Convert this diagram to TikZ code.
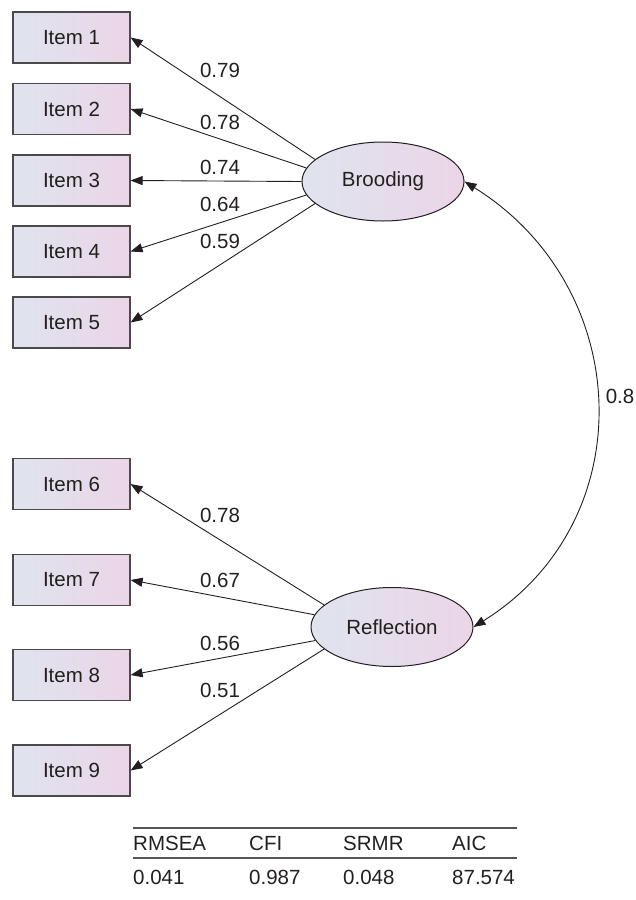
\documentclass[tikz,border=0pt]{standalone}
\usepackage{fontspec}
\setmainfont{Liberation Sans}
\usetikzlibrary{arrows.meta,shapes.geometric}
\definecolor{txt}{HTML}{231F20}
\definecolor{lnc}{HTML}{231F20}
\definecolor{bord}{HTML}{4A4A4A}
\definecolor{fillL}{HTML}{DFE4EE}
\definecolor{fillR}{HTML}{EBD5E7}
\definecolor{rule}{HTML}{555555}
\tikzset{
  itembox/.style={draw=bord, line width=1.1pt, left color=fillL, right color=fillR,
    minimum width=117pt, minimum height=51pt, inner sep=0pt, text=txt,
    font=\fontsize{20.5}{24}\selectfont},
  latent/.style={ellipse, draw=lnc, line width=1pt, left color=fillL, right color=fillR,
    minimum width=162pt, minimum height=79pt, inner sep=0pt, text=txt,
    font=\fontsize{20.5}{24}\selectfont},
  load/.style={draw=lnc, line width=0.9pt, -{Triangle[length=12pt,width=9pt]}},
  cov/.style={draw=lnc, line width=0.9pt, {Triangle[length=12pt,width=9pt]}-{Triangle[length=12pt,width=9pt]}},
  lbl/.style={text=txt, font=\fontsize{20.5}{24}\selectfont, inner sep=0pt},
  tbl/.style={text=txt, font=\fontsize{20.5}{24}\selectfont, inner sep=0pt, anchor=west},
}
\begin{document}
\begin{tikzpicture}[x=1pt,y=-1pt]
\useasboundingbox (0,0) rectangle (635,900);
% items
\node[itembox] (i1) at (71.5,37.5) {Item 1};
\node[itembox] (i2) at (71.5,109) {Item 2};
\node[itembox] (i3) at (71.5,180.5) {Item 3};
\node[itembox] (i4) at (71.5,251.5) {Item 4};
\node[itembox] (i5) at (71.5,322.5) {Item 5};
\node[itembox] (i6) at (71.5,484) {Item 6};
\node[itembox] (i7) at (71.5,580) {Item 7};
\node[itembox] (i8) at (71.5,675) {Item 8};
\node[itembox] (i9) at (71.5,770.5) {Item 9};
% latent
\node[latent] (brood) at (383,181.5) {Brooding};
\node[latent] (refl) at (392,627) {Reflection};
% loadings
\draw[load] (brood.162) -- (i1.east);
\draw[load] (brood.170) -- (i2.east);
\draw[load] (brood.west) -- (i3.east);
\draw[load] (brood.190) -- (i4.east);
\draw[load] (brood.198) -- (i5.east);
\draw[load] (refl.162) -- (i6.east);
\draw[load] (refl.171) -- (i7.east);
\draw[load] (refl.190) -- (i8.east);
\draw[load] (refl.198) -- (i9.east);
% loading labels
\node[lbl] (l1) at (220,70.5) {0.79};
\node[lbl] (l2) at (220,122.5) {0.78};
\node[lbl] (l3) at (220,167) {0.74};
\node[lbl] (l4) at (220,204.5) {0.64};
\node[lbl] (l5) at (220,241) {0.59};
\node[lbl] (l6) at (220,515) {0.78};
\node[lbl] (l7) at (220,580) {0.67};
\node[lbl] (l8) at (220,643) {0.56};
\node[lbl] (l9) at (220,690) {0.51};
% covariance
\draw[cov] (brood.east) .. controls +(170,106) and +(170,-106) .. (refl.east);
\node[lbl] (lc) at (620,396) {0.8};
% fit table
\coordinate (t1a) at (133,828);
\coordinate (t1b) at (517,828);
\coordinate (t2a) at (133,858);
\coordinate (t2b) at (517,858);
\draw[draw=rule, line width=1.1pt] (t1a) -- (t1b);
\draw[draw=rule, line width=1.1pt] (t2a) -- (t2b);
\node[tbl] (h1) at (133,843) {RMSEA};
\node[tbl] (h2) at (249,843) {CFI};
\node[tbl] (h3) at (343,843) {SRMR};
\node[tbl] (h4) at (452,843) {AIC};
\node[tbl] (v1) at (133,877) {0.041};
\node[tbl] (v2) at (249,877) {0.987};
\node[tbl] (v3) at (343,877) {0.048};
\node[tbl] (v4) at (452,877) {87.574};
\end{tikzpicture}
\end{document}
